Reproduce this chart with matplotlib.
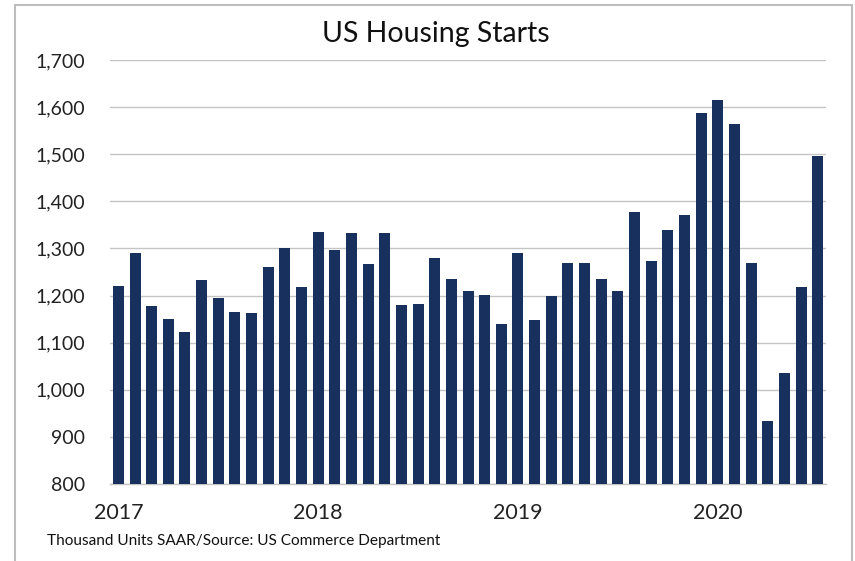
import matplotlib.pyplot as plt
from matplotlib.patches import Rectangle

plt.rcParams['font.family'] = ['Lato', 'DejaVu Sans']

# Monthly housing starts, Jan 2017 - Jul 2020 (thousand units, SAAR)
starts = [
    1221, 1291, 1178, 1150, 1122, 1232, 1195, 1166, 1162, 1261, 1300, 1219,  # 2017
    1335, 1296, 1333, 1267, 1333, 1179, 1182, 1280, 1235, 1210, 1201, 1140,  # 2018
    1291, 1147, 1198, 1270, 1268, 1235, 1210, 1377, 1274, 1340, 1370, 1587,  # 2019
    1616, 1565, 1269, 933, 1036, 1218, 1496,                                 # 2020
]
years = ['2017', '2018', '2019', '2020']
yticks = [800, 900, 1000, 1100, 1200, 1300, 1400, 1500, 1600, 1700]

navy = '#17305e'
grid = '#c4c4c4'

fig = plt.figure(figsize=(8.55, 5.61), dpi=100)
ax = fig.add_axes([0.1287, 0.1373, 0.8374, 0.7558])

x = list(range(len(starts)))
ax.bar(x, [v - 800 for v in starts], bottom=800, width=0.66, color=navy, zorder=3)

ax.set_xlim(-0.5, len(starts) - 0.5)
ax.set_ylim(800, 1700)
ax.set_yticks(yticks)
ax.set_yticklabels([f'{v:,}' for v in yticks])
ax.set_xticks([12 * i for i in range(len(years))])
ax.set_xticklabels(years)
ax.tick_params(axis='y', length=0, pad=18, labelsize=14, colors='#222222')
ax.tick_params(axis='x', length=0, pad=13.5, labelsize=15.5, colors='#222222')

ax.grid(axis='y', color=grid, linewidth=1, zorder=0)
for side in ['top', 'right', 'left']:
    ax.spines[side].set_visible(False)
ax.spines['bottom'].set_color(grid)
ax.spines['bottom'].set_linewidth(1)

fig.text(0.51, 0.94, 'US Housing Starts', ha='center', va='center',
         fontsize=20.5, color='#111111')
fig.text(47 / 855, 1 - 541 / 561, 'Thousand Units SAAR/Source: US Commerce Department',
         ha='left', va='center', fontsize=11.1, color='#111111')

# outer frame around the chart
fig.patches.append(Rectangle((15 / 855, -0.01), 837 / 855, 1 - 5 / 561 + 0.01,
                             transform=fig.transFigure, fill=False,
                             edgecolor='#bdbdbd', linewidth=1.5))

fig.savefig('out.png', dpi=100)
